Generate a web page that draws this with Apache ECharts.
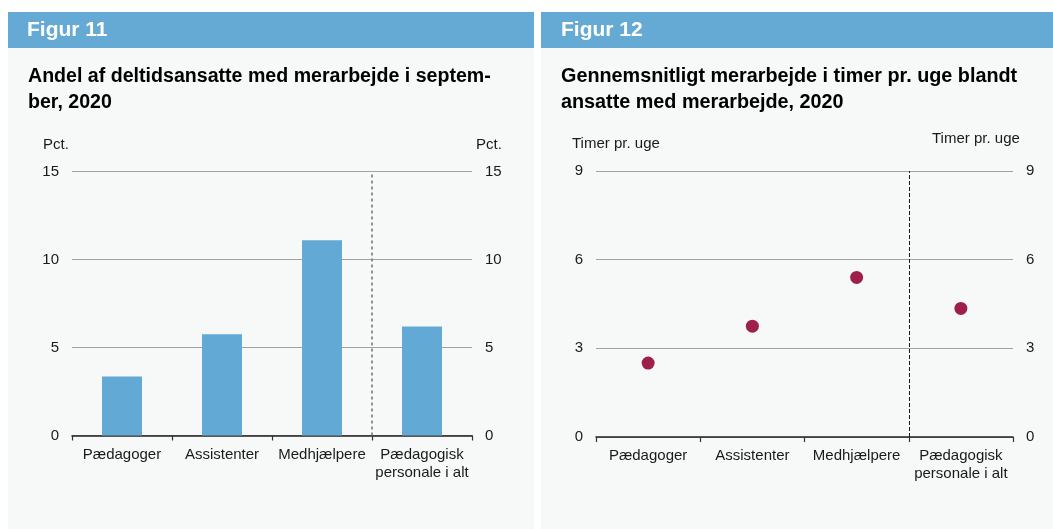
<!DOCTYPE html>
<html>
<head>
<meta charset="utf-8">
<script src="https://cdn.jsdelivr.net/npm/echarts@6/dist/echarts.min.js"></script>
<style>
  html, body { margin: 0; padding: 0; background: #ffffff; }
  #chart { width: 1053px; height: 529px; }
</style>
</head>
<body>
<div id="chart"></div>
<script>
// data
const categories = ['Pædagoger', 'Assistenter', 'Medhjælpere', 'Pædagogisk\npersonale i alt']
const shareValues = [3.35, 5.75, 11.1, 6.2]   // Figur 11, pct.
const hoursValues = [2.5, 3.75, 5.4, 4.35]    // Figur 12, timer pr. uge
const shareAxis = [0, 15, 5]   // min, max, interval
const hoursAxis = [0, 9, 3]
const separatorAt = 3          // dashed line before "i alt" (boundary index)

const FONT = "'Liberation Sans', Arial, Helvetica, sans-serif"
const headBlue = '#64aad5'
const panelBg = '#f7f8f8'

function yAxisPair(gridIndex, range) {
  const base = {
    type: 'value', gridIndex: gridIndex,
    min: range[0], max: range[1], interval: range[2],
    axisLine: { show: false }, axisTick: { show: false },
    axisLabel: { color: '#1a1a1a', fontSize: 15, fontFamily: FONT, margin: 13 }
  }
  return [
    Object.assign({}, base, { position: 'left', splitLine: { lineStyle: { color: '#a3a3a3', width: 1 } } }),
    Object.assign({}, base, { position: 'right', splitLine: { show: false } })
  ]
}

function catAxis(gridIndex) {
  return {
    type: 'category', gridIndex: gridIndex, data: categories,
    axisLine: { lineStyle: { color: '#222', width: 1.5 } },
    axisTick: { show: true, inside: false, length: 5, alignWithLabel: false, lineStyle: { color: '#333', width: 1.2 } },
    axisLabel: { interval: 0, color: '#1a1a1a', fontSize: 15, fontFamily: FONT, margin: 10, lineHeight: 18 },
    splitLine: { show: false }
  }
}

// hidden value axis on the same grid, 0..n, so category boundaries fall on integers
function boundaryAxis(gridIndex) {
  return { type: 'value', gridIndex: gridIndex, min: 0, max: categories.length, show: false, splitLine: { show: false } }
}

function separator(xIdx, yIdx, color, width, dash) {
  return {
    name: 'sep', type: 'line', xAxisIndex: xIdx, yAxisIndex: yIdx, data: [],
    markLine: {
      silent: true, symbol: 'none', label: { show: false },
      lineStyle: { color: color, width: width, type: dash },
      data: [{ xAxis: separatorAt }]
    }
  }
}

function txt(x, y, s, opts) {
  return {
    type: 'text', x: x, y: y, silent: true,
    style: Object.assign({ text: s, fontFamily: FONT, fill: '#1a1a1a', fontSize: 15, verticalAlign: 'middle' }, opts || {})
  }
}

const myChart = echarts.init(document.getElementById('chart'), null, { renderer: 'canvas' })

const option = {
  animation: false,
  backgroundColor: '#ffffff',
  graphic: [
    { type: 'rect', z: -10, shape: { x: 8, y: 12, width: 526, height: 36 }, style: { fill: headBlue } },
    { type: 'rect', z: -10, shape: { x: 8, y: 48, width: 526, height: 481 }, style: { fill: panelBg } },
    { type: 'rect', z: -10, shape: { x: 541, y: 12, width: 512, height: 36 }, style: { fill: headBlue } },
    { type: 'rect', z: -10, shape: { x: 541, y: 48, width: 512, height: 481 }, style: { fill: panelBg } },
    txt(27, 30, 'Figur 11', { fill: '#ffffff', fontSize: 21, fontWeight: 'bold' }),
    txt(561, 30, 'Figur 12', { fill: '#ffffff', fontSize: 21, fontWeight: 'bold' }),
    txt(28, 90, 'Andel af deltidsansatte med merarbejde i septem-\nber, 2020',
      { fill: '#000', fontSize: 19.6, fontWeight: 'bold', lineHeight: 26 }),
    txt(561, 90, 'Gennemsnitligt merarbejde i timer pr. uge blandt\nansatte med merarbejde, 2020',
      { fill: '#000', fontSize: 19.8, fontWeight: 'bold', lineHeight: 26 }),
    txt(43, 145, 'Pct.'),
    txt(476, 145, 'Pct.'),
    txt(572, 144, 'Timer pr. uge'),
    txt(932, 139, 'Timer pr. uge')
  ],
  grid: [
    { left: 72, top: 171.5, width: 400, height: 264 },
    { left: 596, top: 171, width: 417, height: 266 }
  ],
  xAxis: [
    catAxis(0),
    catAxis(1),
    boundaryAxis(0),
    boundaryAxis(1)
  ],
  yAxis: yAxisPair(0, shareAxis).concat(yAxisPair(1, hoursAxis)),
  series: [
    {
      name: 'Andel', type: 'bar', xAxisIndex: 0, yAxisIndex: 0,
      data: shareValues, barWidth: 40,
      itemStyle: { color: '#63a9d5' }
    },
    {
      name: 'Timer', type: 'scatter', xAxisIndex: 1, yAxisIndex: 2,
      data: hoursValues, symbolSize: 13,
      itemStyle: { color: '#9e1f4a', opacity: 1 }
    },
    separator(2, 0, '#707070', 1.5, [3, 3]),
    separator(3, 2, '#1a1a1a', 1, [4, 2])
  ]
}
myChart.setOption(option)
</script>
</body>
</html>
